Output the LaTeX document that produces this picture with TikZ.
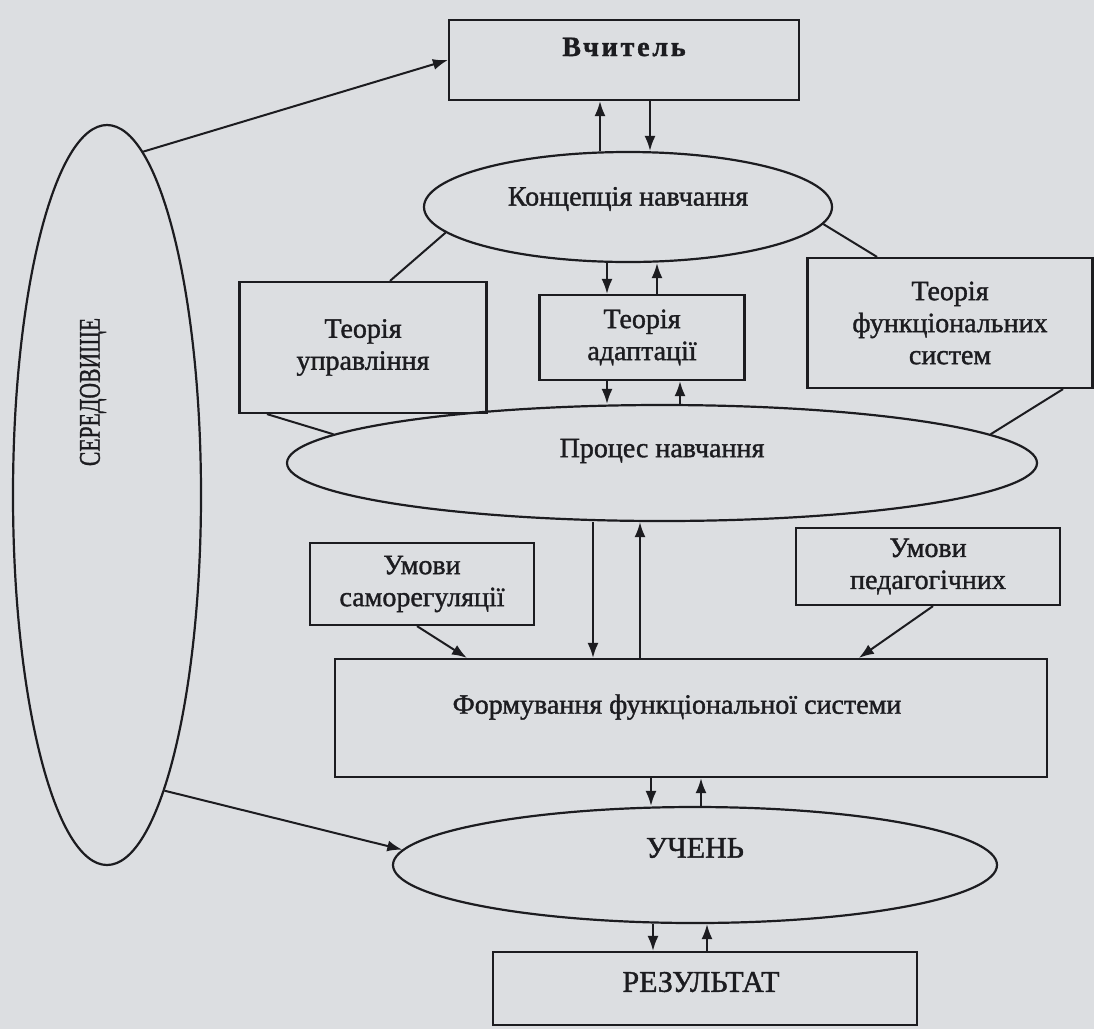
\documentclass[tikz,border=0pt]{standalone}
\usepackage{fontspec}
\setmainfont{Liberation Serif}[FakeBold=1.3]
\newfontfamily\spacedfont[LetterSpace=10,FakeBold=1.3]{Liberation Serif}
\usepackage{graphicx}
\usetikzlibrary{shapes.geometric,arrows.meta,calc}
\definecolor{paper}{RGB}{220,222,225}
\definecolor{ink}{RGB}{28,28,32}
\begin{document}
\begin{tikzpicture}[x=1pt,y=-1pt,
  box/.style={draw=ink, line width=2.2pt, rectangle, inner sep=0pt},
  oval/.style={draw=ink, line width=2.2pt, ellipse, inner sep=0pt},
  conn/.style={draw=ink, line width=2pt},
  arr/.style={conn, -{Latex[length=15pt,width=11pt]}},
  lbl/.style={font=\fontsize{28}{32}\selectfont, align=center, text=ink},
  caps/.style={font=\fontsize{30}{34}\selectfont, text=ink}]
\useasboundingbox (0,0) rectangle (1094,1029);
\fill[paper] (0,0) rectangle (1094,1029);

% nodes
\node[box, minimum width=350, minimum height=80,
  label={[lbl, yshift=13]center:{\spacedfont\bfseries Вчитель}}] (vch) at (624,60) {};
\node[oval, minimum width=408, minimum height=110,
  label={[lbl, yshift=8]center:{Концепція навчання}}] (kon) at (628,207) {};
\node[box, lbl, minimum width=247, minimum height=131] (tu) at (363,347.5) {Теорія\\управління};
\node[box, lbl, minimum width=205, minimum height=85] (ad) at (642,337.5) {Теорія\\адаптації};
\node[box, lbl, minimum width=285, minimum height=130] (tf) at (950,323) {Теорія\\функціональних\\систем};
\node[oval, minimum width=750, minimum height=116,
  label={[lbl, yshift=12]center:{Процес навчання}}] (pro) at (662,463) {};
\node[box, lbl, minimum width=224, minimum height=82] (us) at (422,584) {Умови\\саморегуляції};
\node[box, lbl, minimum width=264, minimum height=77] (up) at (928,566.5) {Умови\\педагогічних};
\node[box, minimum width=712, minimum height=118,
  label={[lbl, yshift=11, xshift=-14]center:{Формування функціональної системи}}] (form) at (691,718) {};
\node[oval, minimum width=604, minimum height=116,
  label={[caps, yshift=17]center:{УЧЕНЬ}}] (uch) at (695,865) {};
\node[box, minimum width=424, minimum height=73,
  label={[caps, yshift=6.5, xshift=-4]center:{РЕЗУЛЬТАТ}}] (rez) at (705,988.5) {};
\node[oval, minimum width=188, minimum height=740,
  label={[caps, rotate=90, xshift=103, yshift=14]center:{\scalebox{0.72}[1]{СЕРЕДОВИЩЕ}}}] (ser) at (107,495) {};

% environment connectors
\draw[arr] (ser.84) -- (vch.west);
\draw[arr] (ser.-79) -- (uch.177);

% teacher <-> concept
\draw[arr] ([xshift=-28]kon.north) -- ([xshift=-28]kon.north |- vch.south);
\draw[arr] ([xshift=26]vch.south) -- ([xshift=26]vch.south |- kon.north);

% concept <-> adaptation
\draw[arr] ([xshift=-21]kon.south) -- ([xshift=-21]kon.south |- ad.north);
\draw[arr] ([xshift=15]ad.north) -- ([xshift=15]ad.north |- kon.south);

% adaptation <-> process
\draw[arr] ([xshift=-35]ad.south) -- ([xshift=-35]ad.south |- pro.north);
\draw[arr] ([xshift=18]pro.north) -- ([xshift=18]pro.north |- ad.south);

% concept / process links to the theories
\draw[conn] (kon.188) -- ([xshift=27]tu.north);
\draw[conn] (kon.-5.5) -- ([xshift=-73]tf.north);
\draw[conn] ([xshift=-96]tu.south) -- (pro.175);
\draw[conn] ([xshift=113]tf.south) -- (pro.5);

% process <-> formation
\draw[arr] ([xshift=-69]pro.south) -- ([xshift=-69]pro.south |- form.north);
\draw[arr] ([xshift=-51]form.north) -- ([xshift=-51]form.north |- pro.south);

% conditions -> formation
\draw[arr] ([xshift=-5]us.south) -- ([xshift=133]form.north west);
\draw[arr] ([xshift=5]up.south) -- ([xshift=525]form.north west);

% formation <-> pupil
\draw[arr] ([xshift=-40]form.south) -- ([xshift=-40]form.south |- uch.north);
\draw[arr] ([xshift=6]uch.north) -- ([xshift=6]uch.north |- form.south);

% pupil <-> result
\draw[arr] ([xshift=-42]uch.south) -- ([xshift=-42]uch.south |- rez.north);
\draw[arr] ([xshift=2]rez.north) -- ([xshift=2]rez.north |- uch.south);
\end{tikzpicture}
\end{document}
